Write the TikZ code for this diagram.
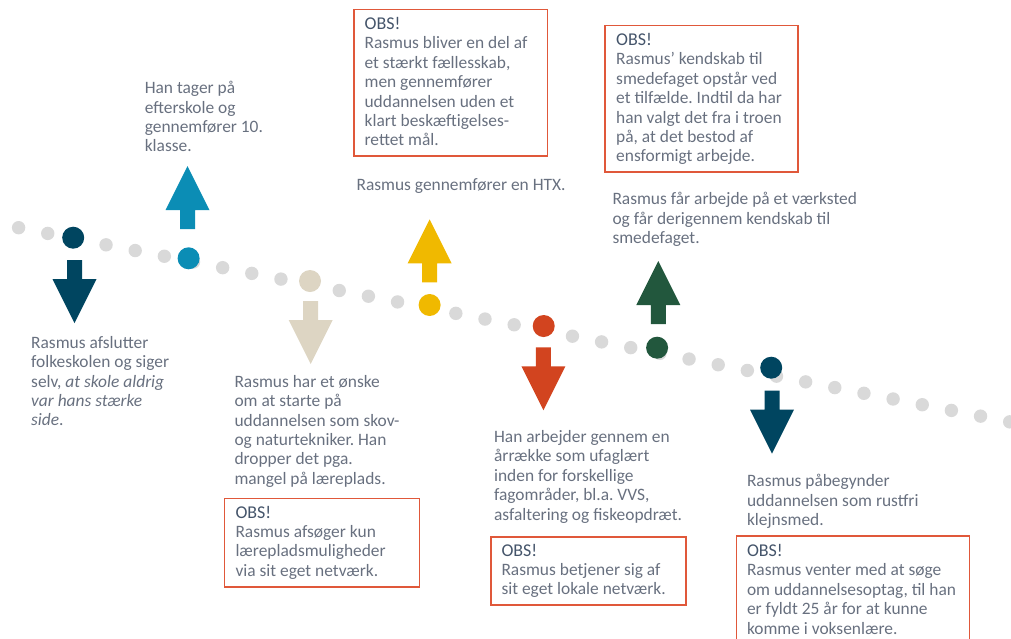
\documentclass[tikz,border=0pt]{standalone}
\usepackage{fontspec}
\setmainfont{Carlito}
\frenchspacing
\definecolor{navyblue}{HTML}{004560}
\definecolor{seablue}{HTML}{0B8DB5}
\definecolor{sand}{HTML}{DDD5C3}
\definecolor{gold}{HTML}{F0B900}
\definecolor{rust}{HTML}{D2441F}
\definecolor{forest}{HTML}{22573D}
\definecolor{dotgrey}{HTML}{D9D9D9}
\definecolor{boxred}{HTML}{E0583A}
\definecolor{ink}{HTML}{68707F}
\definecolor{obsink}{HTML}{44546A}
\newcommand\obshead{{\fontsize{18}{20}\selectfont\color{obsink}OBS!}\\}

\begin{document}
\begin{tikzpicture}[x=1pt,y=-1pt,
  txt/.style={anchor=north west, inner sep=0pt, align=left, text=ink, font=\fontsize{17.4}{19.4}\selectfont},
  obsbox/.style={draw=boxred, line width=1.6pt, anchor=north west, inner sep=0pt},
  arrowdown/.pic={\fill (-7.5,0) -- (7.5,0) -- (7.5,19) -- (22,19) -- (0,63) -- (-22,19) -- (-7.5,19) -- cycle;},
  arrowup/.pic={\fill (-7.5,0) -- (7.5,0) -- (7.5,-19) -- (22,-19) -- (0,-63) -- (-22,-19) -- (-7.5,-19) -- cycle;}]
\useasboundingbox (0,0) rectangle (1011,638);

% the dotted time line
\foreach \k in {0,...,34}
  \fill[dotgrey] (18.6+29.15*\k, 227.7+5.71*\k) circle (6.7pt);

% milestones
\fill[navyblue] (73.2,237.7) circle (11pt);
\fill[seablue] (188.6,258.3) circle (11pt);
\fill[sand] (310,281) circle (11pt);
\fill[gold] (429.6,305) circle (11pt);
\fill[rust] (543.7,326) circle (11pt);
\fill[forest] (657.1,347.7) circle (11pt);
\fill[navyblue] (771.2,367.7) circle (11pt);

\pic[fill=navyblue] at (74.5,260) {arrowdown};
\pic[fill=seablue] at (187.5,229) {arrowup};
\pic[fill=sand] at (310.7,301) {arrowdown};
\pic[fill=gold] at (429.6,282.3) {arrowup};
\pic[fill=rust] at (543.4,347.3) {arrowdown};
\pic[fill=forest] at (658.3,324) {arrowup};
\pic[fill=navyblue] at (772,390.7) {arrowdown};

% texts
\node[txt] (afslut) at (31,336) {Rasmus afslutter\\ folkeskolen og siger\\ selv, \textit{at skole aldrig}\\ \textit{var hans stærke}\\ \textit{side}.};
\node[txt] (efterskole) at (144.6,81.2) {Han tager på\\ efterskole og\\ gennemfører 10.\\ klasse.};
\node[txt] (skov) at (234.3,375) {Rasmus har et ønske\\ om at starte på\\ uddannelsen som skov-\\ og naturtekniker. Han\\ dropper det pga.\\ mangel på læreplads.};
\node[txt] (htx) at (356.4,178.3) {Rasmus gennemfører en HTX.};
\node[txt] (ufag) at (493.9,430.3) {Han arbejder gennem en\\ årrække som ufaglært\\ inden for forskellige\\ fagområder, bl.a. VVS,\\ asfaltering og fiskeopdræt.};
\node[txt] (vaerksted) at (612.3,192.3) {Rasmus får arbejde på et værksted\\ og får derigennem kendskab til\\ smedefaget.};
\node[txt] (klejn) at (746.8,474.3) {Rasmus påbegynder\\ uddannelsen som rustfri\\ klejnsmed.};

% OBS boxes
\node[obsbox, minimum width=193.6pt, minimum height=146.3pt] (obs1) at (353.2,8.7) {};
\node[obsbox, minimum width=193pt, minimum height=146.3pt] (obs2) at (604.3,24.7) {};
\node[obsbox, minimum width=195pt, minimum height=88.3pt] (obs3) at (223.7,497.7) {};
\node[obsbox, minimum width=194.7pt, minimum height=68.3pt] (obs4) at (490.2,536) {};
\node[obsbox, minimum width=233pt, minimum height=106.4pt] (obs5) at (735.7,535.3) {};

\node[txt] (obs1t) at ([shift={(11.2,8.4)}]obs1.north west) {\obshead Rasmus bliver en del af\\ et stærkt fællesskab,\\ men gennemfører\\ uddannelsen uden et\\ klart beskæftigelses-\\ rettet mål.};
\node[txt] (obs2t) at ([shift={(11.7,8.5)}]obs2.north west) {\obshead Rasmus’ kendskab til\\ smedefaget opstår ved\\ et tilfælde. Indtil da har\\ han valgt det fra i troen\\ på, at det bestod af\\ ensformigt arbejde.};
\node[txt] (obs3t) at ([shift={(11.6,8)}]obs3.north west) {\obshead Rasmus afsøger kun\\ lærepladsmuligheder\\ via sit eget netværk.};
\node[txt] (obs4t) at ([shift={(11.1,7.8)}]obs4.north west) {\obshead Rasmus betjener sig af\\ sit eget lokale netværk.};
\node[txt] (obs5t) at ([shift={(11.1,8.8)}]obs5.north west) {\obshead Rasmus venter med at søge\\ om uddannelsesoptag, til han\\ er fyldt 25 år for at kunne\\ komme i voksenlære.};
\end{tikzpicture}
\end{document}
